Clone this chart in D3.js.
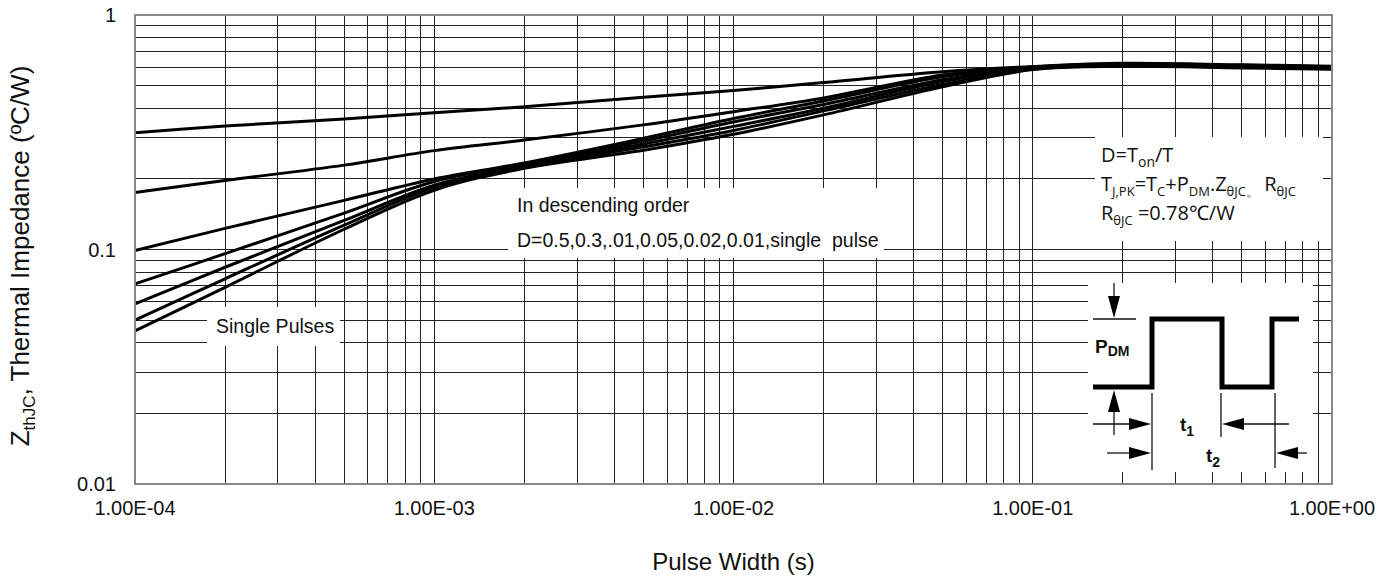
<!DOCTYPE html>
<html>
<head>
<meta charset="utf-8">
<script src="https://cdn.jsdelivr.net/npm/d3@7"></script>
<style>
  body { margin: 0; background: #fff; }
  text { font-family: "Liberation Sans", Arial, sans-serif; fill: #111; }
</style>
</head>
<body>
<div id="chart"></div>
<script>
// pulse width (s) sample points
var times = [1e-4, 2e-4, 5e-4, 1e-3, 2e-3, 5e-3, 1e-2, 2e-2, 5e-2, 1e-1, 2e-1, 5e-1, 1];
// Zth (C/W), one array per duty cycle
var d050 = [0.315, 0.336, 0.360, 0.383, 0.406, 0.446, 0.476, 0.515, 0.573, 0.603, 0.622, 0.613, 0.605];
var d030 = [0.175, 0.197, 0.229, 0.264, 0.293, 0.340, 0.387, 0.443, 0.555, 0.600, 0.619, 0.610, 0.602];
var d010 = [0.099, 0.123, 0.162, 0.200, 0.234, 0.298, 0.362, 0.430, 0.545, 0.597, 0.616, 0.607, 0.599];
var d005 = [0.0713, 0.096, 0.143, 0.195, 0.231, 0.290, 0.350, 0.415, 0.530, 0.594, 0.613, 0.604, 0.596];
var d002 = [0.0586, 0.084, 0.133, 0.188, 0.228, 0.282, 0.335, 0.400, 0.520, 0.591, 0.610, 0.601, 0.593];
var d001 = [0.050, 0.075, 0.127, 0.184, 0.225, 0.274, 0.322, 0.390, 0.505, 0.588, 0.607, 0.598, 0.590];
var single = [0.045, 0.069, 0.122, 0.179, 0.222, 0.265, 0.310, 0.375, 0.494, 0.585, 0.604, 0.595, 0.587];
var seriesList = [d050, d030, d010, d005, d002, d001, single];

var xTickVals = [1e-4, 1e-3, 1e-2, 1e-1, 1];
var xTickLabels = ["1.00E-04", "1.00E-03", "1.00E-02", "1.00E-01", "1.00E+00"];
var yTickVals = [0.01, 0.1, 1];
var yTickLabels = ["0.01", "0.1", "1"];

var W = 1397, H = 577,
    margin = { top: 15, left: 135 },
    width = 1197,
    height = 469;

var svg = d3.select("#chart").append("svg")
    .attr("width", W)
    .attr("height", H);

var g = svg.append("g")
    .attr("transform", "translate(" + margin.left + "," + margin.top + ")");

var x = d3.scaleLog().domain([1e-4, 1]).range([0, width]);
var y = d3.scaleLog().domain([0.01, 1]).range([height, 0]);

// grid
g.append("g").selectAll("line")
    .data(x.ticks())
    .enter().append("line")
    .attr("x1", d => x(d)).attr("x2", d => x(d))
    .attr("y1", 0).attr("y2", height)
    .attr("stroke", "#222").attr("stroke-width", 1)
    .attr("shape-rendering", "crispEdges");
g.append("g").selectAll("line")
    .data(y.ticks())
    .enter().append("line")
    .attr("y1", d => y(d)).attr("y2", d => y(d))
    .attr("x1", 0).attr("x2", width)
    .attr("stroke", "#222").attr("stroke-width", 1)
    .attr("shape-rendering", "crispEdges");

// curves
var line = d3.line()
    .x((d, i) => x(times[i]))
    .y(d => y(d))
    .curve(d3.curveCatmullRom.alpha(0.5));

g.selectAll(".curve")
    .data(seriesList)
    .enter().append("path")
    .attr("class", "curve")
    .attr("d", line)
    .attr("fill", "none")
    .attr("stroke", "#000")
    .attr("stroke-width", 3);

// white label boxes
function box(x0, y0, x1, y1) {
    svg.append("rect")
        .attr("x", x0).attr("y", y0)
        .attr("width", x1 - x0).attr("height", y1 - y0)
        .attr("fill", "#fff");
}
box(508, 188, 884, 258);
box(207, 307, 340, 346);
box(1095, 137, 1323, 241);
box(1088, 283, 1313, 472);

// tick labels
svg.append("g").selectAll("text")
    .data(xTickVals)
    .enter().append("text")
    .attr("x", d => margin.left + x(d))
    .attr("y", 515)
    .attr("text-anchor", "middle")
    .style("font-size", "20px")
    .text((d, i) => xTickLabels[i]);
svg.append("g").selectAll("text")
    .data(yTickVals)
    .enter().append("text")
    .attr("x", 116)
    .attr("y", d => margin.top + y(d))
    .attr("dy", "0.35em")
    .attr("text-anchor", "end")
    .style("font-size", "20px")
    .text((d, i) => yTickLabels[i]);

// axis titles
svg.append("text")
    .attr("x", margin.left + width / 2)
    .attr("y", 570)
    .attr("text-anchor", "middle")
    .style("font-size", "24px")
    .text("Pulse Width (s)");

var yt = svg.append("text")
    .attr("transform", "translate(29,256) rotate(-90)")
    .attr("text-anchor", "middle")
    .style("font-size", "26px");
yt.append("tspan").text("Z");
yt.append("tspan").attr("dy", 6).style("font-size", "17px").text("thJC");
yt.append("tspan").attr("dy", -6).text(", Thermal Impedance (ºC/W)");

// rich text helper: parts = [[text, sub?], ...]
function rich(sel, parts, subSize) {
    parts.forEach(function (p, i) {
        var t = sel.append("tspan").text(p[0]);
        var prevSub = i > 0 && parts[i - 1][1];
        if (p[1] && !prevSub) t.attr("dy", 5);
        if (!p[1] && prevSub) t.attr("dy", -5);
        if (p[1]) t.style("font-size", subSize);
    });
}

// annotations
svg.append("text").attr("x", 517).attr("y", 212)
    .style("font-size", "19.5px").text("In descending order");
svg.append("text").attr("x", 517).attr("y", 247)
    .style("font-size", "19.5px").attr("xml:space", "preserve")
    .text("D=0.5,0.3,.01,0.05,0.02,0.01,single  pulse");
svg.append("text").attr("x", 216).attr("y", 333)
    .style("font-size", "19.5px").text("Single Pulses");

var fFont = "'Open Sans', 'Noto Sans', sans-serif";
var f1 = svg.append("text").attr("x", 1101).attr("y", 162)
    .style("font-family", fFont).style("font-size", "20px");
rich(f1, [["D=T"], ["on", 1], ["/T"]], "14px");
var f2 = svg.append("text").attr("x", 1101).attr("y", 191)
    .style("font-family", fFont).style("font-size", "20px");
rich(f2, [["T"], ["J,PK", 1], ["=T"], ["C", 1], ["+P"], ["DM", 1], [".Z"], ["θJC。", 1], [" R"], ["θJC", 1]], "13px");
var f3 = svg.append("text").attr("x", 1101).attr("y", 220)
    .style("font-family", fFont).style("font-size", "20px");
rich(f3, [["R"], ["θJC", 1], [" =0.78℃/W"]], "13px");

// pulse diagram
var pd = svg.append("g");
pd.append("path")
    .attr("d", "M1093,387H1152V319H1222V387H1272V319H1299")
    .attr("fill", "none").attr("stroke", "#000").attr("stroke-width", 5);

function thin(x1, y1, x2, y2) {
    pd.append("line").attr("x1", x1).attr("y1", y1).attr("x2", x2).attr("y2", y2)
        .attr("stroke", "#111").attr("stroke-width", 1.3);
}
// arrow head: tip at (tx,ty), pointing in direction (dx,dy)
function head(tx, ty, dx, dy) {
    var L = 22, w = 6;
    var bx = tx - dx * L, by = ty - dy * L;
    var px = -dy * w, py = dx * w;
    pd.append("path")
        .attr("d", "M" + tx + "," + ty + "L" + (bx + px) + "," + (by + py) +
            "L" + (bx - px) + "," + (by - py) + "Z")
        .attr("fill", "#000");
}
thin(1093, 319, 1136, 319);
thin(1114, 283, 1114, 300); head(1114, 318, 0, 1);
thin(1114, 408, 1114, 435); head(1114, 390, 0, -1);
thin(1152, 393, 1152, 470);
thin(1221, 393, 1221, 437);
thin(1275, 393, 1275, 468);
thin(1093, 424, 1135, 424); head(1151, 424, 1, 0);
thin(1240, 424, 1289, 424); head(1222, 424, -1, 0);
thin(1107, 453, 1135, 453); head(1151, 453, 1, 0);
thin(1292, 453, 1307, 453); head(1276, 453, -1, 0);

var pdm = svg.append("text").attr("x", 1095).attr("y", 353)
    .style("font-size", "19px").style("font-weight", "bold");
pdm.append("tspan").text("P");
pdm.append("tspan").attr("dy", 3).style("font-size", "14px").text("DM");
var t1 = svg.append("text").attr("x", 1180).attr("y", 431)
    .style("font-size", "19px").style("font-weight", "bold");
t1.append("tspan").text("t");
t1.append("tspan").attr("dy", 5).style("font-size", "14px").text("1");
var t2 = svg.append("text").attr("x", 1206).attr("y", 462)
    .style("font-size", "19px").style("font-weight", "bold");
t2.append("tspan").text("t");
t2.append("tspan").attr("dy", 5).style("font-size", "14px").text("2");

// plot border
g.append("rect")
    .attr("width", width).attr("height", height)
    .attr("fill", "none")
    .attr("stroke", "#888").attr("stroke-width", 2);
</script>
</body>
</html>
